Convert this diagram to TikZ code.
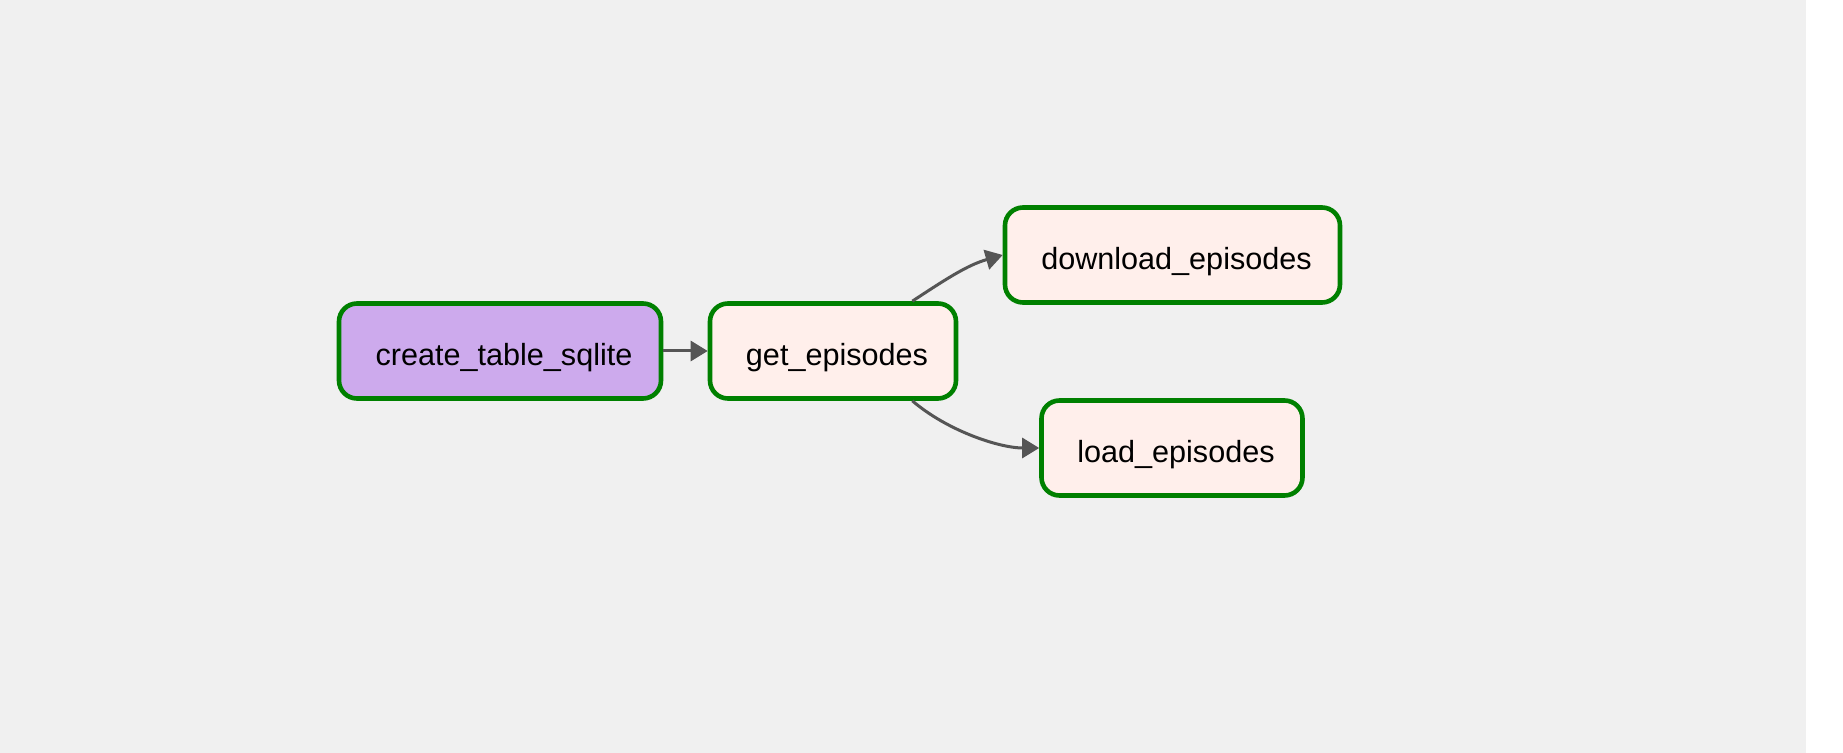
\documentclass[tikz,border=0pt]{standalone}
\usepackage{fontspec}
\setmainfont{Liberation Sans}
\usetikzlibrary{arrows.meta}
\definecolor{bggray}{HTML}{F0F0F0}
\definecolor{sqlpurple}{HTML}{CDAAED}
\definecolor{pypink}{HTML}{FFEFEB}
\definecolor{okgreen}{HTML}{008000}
\definecolor{linkgray}{HTML}{555555}
\begin{document}
\begin{tikzpicture}[x=.5pt,y=-.5pt,
  task/.style={draw=okgreen,line width=2.3pt,rounded corners=9pt,fill=pypink,
    minimum height=47.5pt,inner sep=0pt,text height=1.5em,text depth=.07em,
    font=\fontsize{15.3}{18}\selectfont,execute at begin node=\hspace*{4pt}},
  link/.style={draw=linkgray,line width=1.5pt,-{Triangle[length=8.5pt,width=10pt]}}]
\fill[white] (0,0) rectangle (1843,753);
\fill[bggray] (0,0) rectangle (1806,753);
\node[task,fill=sqlpurple,minimum width=161pt] (create) at (500,351) {create\_table\_sqlite};
\node[task,minimum width=123pt] (get) at (833,351) {get\_episodes};
\node[task,minimum width=167.5pt] (download) at (1172.5,255) {download\_episodes};
\node[task,minimum width=130.5pt] (load) at (1172,448) {load\_episodes};
\draw[link] (create.east) -- (get.west);
\draw[link] ([xshift=-23pt]get.north east) .. controls +(35,-23) and +(-35,10) .. (download.west);
\draw[link] ([xshift=-23pt]get.south east) .. controls +(35,30) and +(-40,0) .. (load.west);
\end{tikzpicture}
\end{document}
